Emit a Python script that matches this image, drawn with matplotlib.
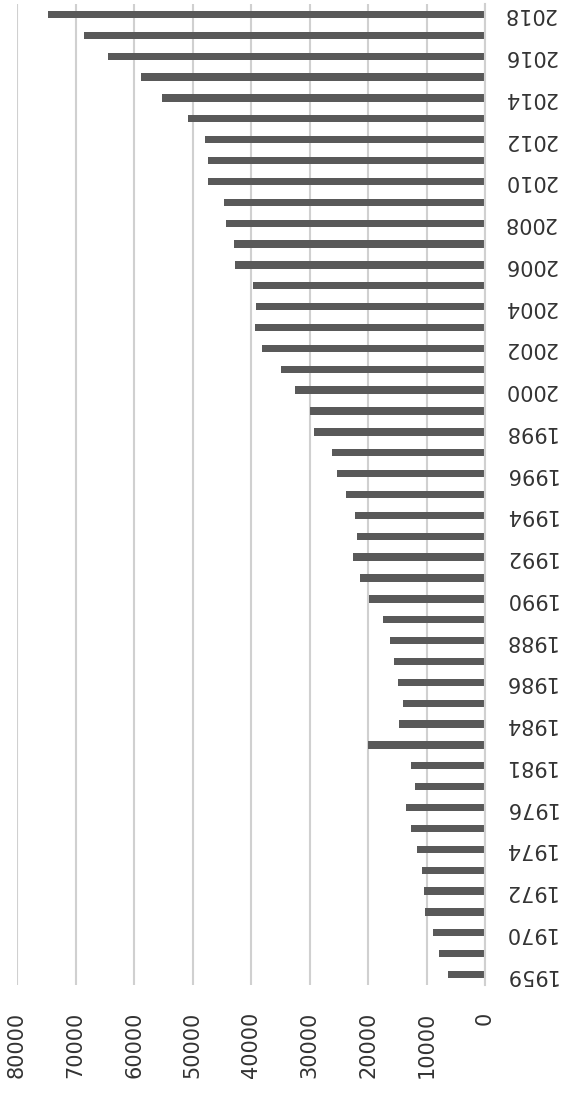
import numpy as np
import matplotlib
matplotlib.use('Agg')
from matplotlib import pyplot as plt

# categories from bottom (first) to top (last)
anos = ['1959', '1965', '1970', '1971', '1972', '1973', '1974', '1975',
        '1976', '1980', '1981', '1982',
        '1984', '1985', '1986', '1987', '1988', '1989', '1990', '1991',
        '1992', '1993', '1994', '1995', '1996', '1997', '1998', '1999',
        '2000', '2001', '2002', '2003', '2004', '2005', '2006', '2007',
        '2008', '2009', '2010', '2011', '2012', '2013', '2014', '2015',
        '2016', '2017', '2018']

valores = [6260, 7880, 8930, 10230, 10480, 10850, 11540, 12650,
           13580, 12030, 12650, 19970,
           14640, 13950, 14880, 15630, 16310, 17370, 19850, 21330,
           22510, 21950, 22260, 23690, 25240, 26170, 29270, 29890,
           32500, 34860, 38200, 39260, 39130, 39630, 42730, 42980,
           44280, 44530, 47320, 47320, 47880, 50730, 55140, 58730,
           64500, 68530, 74700]

ticks_valor = [0, 10000, 20000, 30000, 40000, 50000, 60000, 70000, 80000]

plt.rcParams['font.family'] = ['DejaVu Sans']

fig = plt.figure(figsize=(5.68, 10.93), dpi=100)
ax = fig.add_axes([17 / 568, 1 - 985 / 1093, 468 / 568, 981 / 1093])

pos = np.arange(len(anos))
ax.barh(pos, valores, height=0.35, color='#595959', zorder=3)

ax.set_xlim(80000, 0)
ax.set_ylim(-0.5, len(anos) - 0.5)

# gridlines
ax.set_xticks(ticks_valor)
ax.set_xticklabels([str(v) for v in ticks_valor], rotation=90,
                   fontsize=15, color='#333333')
ax.xaxis.grid(True, color='#d0d0d0', linewidth=1.5, zorder=0)
ax.tick_params(axis='x', length=0, pad=19)

# year labels on the right, every other one, upside down
ax.yaxis.tick_right()
ax.set_yticks(pos[::2])
ax.set_yticklabels(anos[::2], rotation=180, fontsize=15, color='#333333',
                   va='center')
ax.tick_params(axis='y', length=0, pad=13)

for s in ['top', 'bottom', 'left']:
    ax.spines[s].set_visible(False)
ax.spines['right'].set_color('#d0d0d0')
ax.spines['right'].set_linewidth(1.5)
ax.spines['right'].set_zorder(4)

plt.savefig('out.png', dpi=100)
